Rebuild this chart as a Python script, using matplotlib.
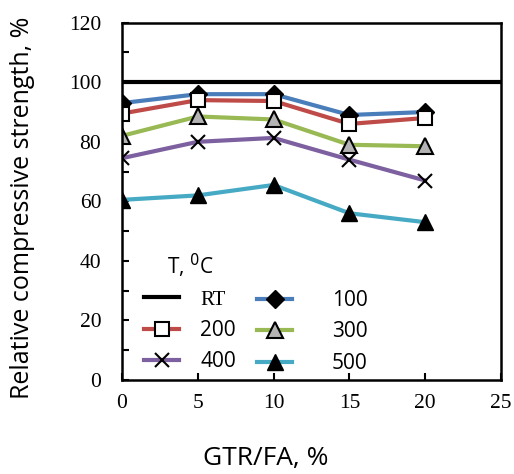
import matplotlib
matplotlib.use("Agg")
import matplotlib.pyplot as plt
from matplotlib.ticker import MultipleLocator

gtr = [0, 5, 10, 15, 20]
rt_x = [0, 25]
rt_y = [100, 100]
s100 = [93.0, 96.0, 96.0, 89.0, 90.0]
s200 = [89.5, 94.0, 93.7, 86.0, 88.0]
s300 = [82.0, 88.5, 87.5, 79.0, 78.5]
s400 = [74.5, 80.0, 81.3, 74.0, 67.0]
s500 = [60.5, 62.0, 65.5, 56.0, 53.0]
labels = ["RT", "100", "200", "300", "400", "500"]

W, H = 514, 474
fig = plt.figure(figsize=(W / 100, H / 100), dpi=100)
ax = fig.add_axes([122 / W, 1 - 380 / H, 379 / W, 357.3 / H])

serif = "Liberation Serif"
sans = "Open Sans"

lw = 3.0
h_rt, = ax.plot(rt_x, rt_y, color="black", lw=3.0)
h100, = ax.plot(gtr, s100, color="#4a7ebb", lw=lw, marker="D", ms=9,
                mfc="black", mec="black")
h200, = ax.plot(gtr, s200, color="#be4b48", lw=lw, marker="s", ms=9.5,
                mfc="white", mec="black", mew=1.5)
h300, = ax.plot(gtr, s300, color="#98b954", lw=lw, marker="^", ms=11,
                mfc="#b3b3b3", mec="black", mew=1.5)
h400, = ax.plot(gtr, s400, color="#7d60a0", lw=lw, marker="x", ms=10,
                mec="black", mew=1.5)
h500, = ax.plot(gtr, s500, color="#46aac5", lw=lw, marker="^", ms=11,
                mfc="black", mec="black")

ax.set_xlim(0, 25)
ax.set_ylim(0, 120)
ax.xaxis.set_major_locator(MultipleLocator(5))
ax.yaxis.set_major_locator(MultipleLocator(20))
ax.yaxis.set_minor_locator(MultipleLocator(10))
ax.tick_params(which="both", direction="in", width=1.5, length=5,
               labelsize=15.5)
ax.tick_params(axis="x", pad=10)
ax.tick_params(axis="y", pad=15)
for lab in ax.get_xticklabels() + ax.get_yticklabels():
    lab.set_fontfamily(serif)
for sp in ax.spines.values():
    sp.set_linewidth(1.8)

fig.text(266 / W, 1 - 459 / H, "GTR/FA, %", fontsize=19, family=sans,
         ha="center", va="center")
fig.text(23 / W, 1 - 208 / H, "Relative compressive strength, %", fontsize=18,
         family=sans, ha="center", va="center", rotation=90)

ax.text((167 - 122) / 379, (380 - 266) / 357.3, "T, $^{0}$C", fontsize=15,
        family=sans, ha="left", va="center", transform=ax.transAxes)

common = dict(loc="upper left", frameon=False, handlelength=1.7,
              labelspacing=0.5, borderpad=0, borderaxespad=0,
              prop={"family": sans, "size": 15})
leg1 = ax.legend([h_rt, h200, h400], [labels[0], labels[2], labels[4]],
                 bbox_to_anchor=((144 - 122) / 379, (380 - 290) / 357.3),
                 handletextpad=1.0, **common)
leg1.get_texts()[0].set_fontfamily(serif)
ax.add_artist(leg1)
leg2 = ax.legend([h100, h300, h500], [labels[1], labels[3], labels[5]],
                 bbox_to_anchor=((257 - 122) / 379, (380 - 290) / 357.3),
                 handletextpad=1.9, **common)

fig.savefig("out.png", dpi=100)
